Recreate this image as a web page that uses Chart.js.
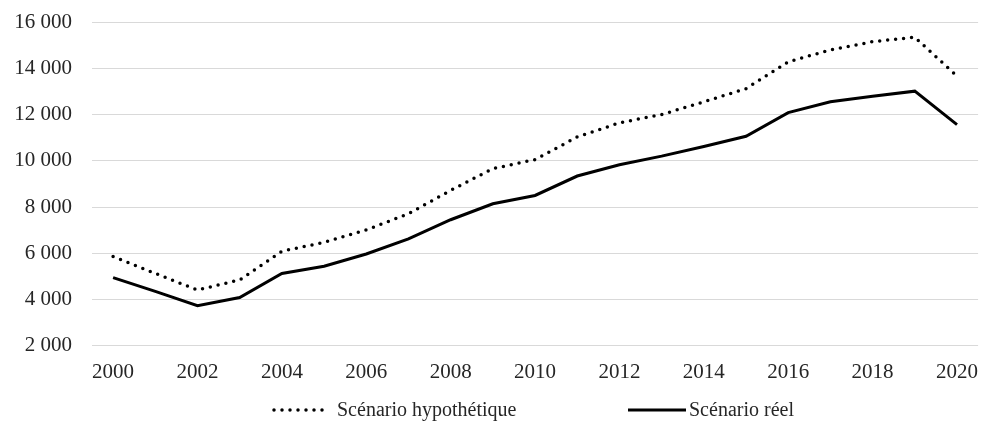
<!DOCTYPE html>
<html>
<head>
<meta charset="utf-8">
<script src="https://cdn.jsdelivr.net/npm/chart.js@4/dist/chart.umd.min.js"></script>
<style>
  html, body { margin: 0; padding: 0; background: #fff; }
  #wrap { width: 981px; height: 422px; position: relative; }
</style>
</head>
<body>
<div id="wrap"><canvas id="chart"></canvas></div>
<script>
// Years and the two scenarios
const years = ['2000', '2001', '2002', '2003', '2004', '2005', '2006', '2007', '2008', '2009', '2010',
  '2011', '2012', '2013', '2014', '2015', '2016', '2017', '2018', '2019', '2020'];
const hypothetique = [5860, 5130, 4410, 4850, 6090, 6470, 7010, 7710, 8720, 9660, 10050,
  11030, 11640, 12000, 12550, 13120, 14280, 14790, 15150, 15340, 13660];
const reel = [4950, 4350, 3730, 4090, 5130, 5440, 5970, 6620, 7450, 8140, 8500,
  9340, 9830, 10200, 10620, 11060, 12080, 12550, 12790, 13010, 11560];
const yTicks = [2000, 4000, 6000, 8000, 10000, 12000, 14000, 16000];

const FONT = '"Liberation Serif", "Times New Roman", serif';
const TEXT = '#262626';

function formatNumber(value) {
  return String(value).replace(/\B(?=(\d{3})+(?!\d))/g, ' ');
}

// Legend drawn by hand so the wide gap between the two items can be kept
const bottomLegend = {
  id: 'bottomLegend',
  afterDraw(chart) {
    const ctx = chart.ctx;
    const y = 410;
    const items = [
      { ds: chart.data.datasets[0], x1: 274, x2: 326, textX: 337 },
      { ds: chart.data.datasets[1], x1: 628, x2: 686, textX: 689 }
    ];
    ctx.save();
    items.forEach(item => {
      ctx.beginPath();
      ctx.setLineDash(item.ds.borderDash || []);
      ctx.lineCap = item.ds.borderCapStyle || 'butt';
      ctx.lineWidth = item.ds.borderWidth;
      ctx.strokeStyle = item.ds.borderColor;
      ctx.moveTo(item.x1, y);
      ctx.lineTo(item.x2, y);
      ctx.stroke();
      ctx.setLineDash([]);
      ctx.fillStyle = TEXT;
      ctx.font = '20px ' + FONT;
      ctx.textBaseline = 'middle';
      ctx.fillText(item.ds.label, item.textX, y + 1);
    });
    ctx.restore();
  }
};

new Chart(document.getElementById('chart'), {
  type: 'line',
  data: {
    labels: years,
    datasets: [
      {
        label: 'Scénario hypothétique',
        data: hypothetique,
        borderColor: '#000',
        borderWidth: 3.5,
        borderDash: [0, 8],
        borderCapStyle: 'round',
        pointRadius: 0,
        tension: 0
      },
      {
        label: 'Scénario réel',
        data: reel,
        borderColor: '#000',
        borderWidth: 3,
        pointRadius: 0,
        tension: 0
      }
    ]
  },
  options: {
    responsive: true,
    maintainAspectRatio: false,
    animation: false,
    layout: { padding: { top: 22, left: 13, right: 0, bottom: 34 } },
    plugins: {
      legend: { display: false },
      tooltip: { enabled: false }
    },
    scales: {
      x: {
        offset: true,
        grid: { display: true, drawOnChartArea: false, drawTicks: true, tickLength: 11, color: 'rgba(0,0,0,0)' },
        border: { display: false },
        ticks: {
          autoSkip: false,
          maxRotation: 0,
          padding: 3,
          color: TEXT,
          font: { family: FONT, size: 21 },
          callback: (value, index) => (index % 2 === 0 ? years[index] : '')
        }
      },
      y: {
        min: 2000,
        max: 16000,
        afterBuildTicks: axis => { axis.ticks = yTicks.map(v => ({ value: v })); },
        afterFit: axis => {
          axis.width = 79;
          axis.paddingTop = 0;
          axis.paddingBottom = 0;
        },
        grid: { color: '#d9d9d9', lineWidth: 1, drawTicks: false },
        border: { display: false },
        ticks: {
          padding: 20,
          color: TEXT,
          font: { family: FONT, size: 21 },
          callback: value => formatNumber(value)
        }
      }
    }
  },
  plugins: [bottomLegend]
});
</script>
</body>
</html>
